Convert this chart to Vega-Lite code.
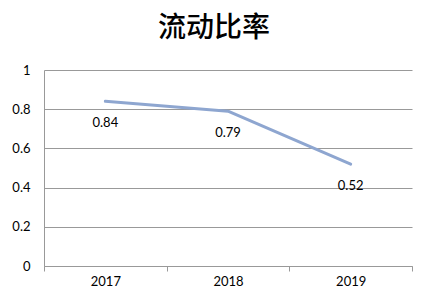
{
  "$schema": "https://vega.github.io/schema/vega-lite/v6.json",
  "width": 368,
  "height": 196,
  "autosize": {"type": "none"},
  "padding": {"left": 44, "top": 70, "right": 19, "bottom": 39},
  "background": "white",
  "title": {
    "text": "流动比率",
    "font": "Noto Sans CJK SC",
    "fontSize": 28,
    "fontWeight": 500,
    "color": "black",
    "anchor": "middle",
    "frame": "group",
    "dx": -14,
    "offset": 21
  },
  "data": {
    "values": [
      {"year": "2017", "ratio": 0.84},
      {"year": "2018", "ratio": 0.79},
      {"year": "2019", "ratio": 0.52}
    ]
  },
  "config": {
    "view": {"stroke": null},
    "font": "Lato"
  },
  "encoding": {
    "x": {
      "field": "year",
      "type": "ordinal",
      "scale": {"type": "band", "paddingInner": 0, "paddingOuter": 0},
      "axis": {
        "title": null,
        "labelAngle": 0,
        "labelFont": "Lato",
        "labelFontSize": 13,
        "labelColor": "black",
        "labelPadding": 4,
        "domainColor": "#999999",
        "domainWidth": 1,
        "tickColor": "#999999",
        "tickSize": 5,
        "tickBand": "extent",
        "grid": false
      }
    },
    "y": {
      "field": "ratio",
      "type": "quantitative",
      "scale": {"domain": [0, 1]},
      "axis": {
        "title": null,
        "values": [0, 0.2, 0.4, 0.6, 0.8, 1],
        "format": "~g",
        "labelFont": "Lato",
        "labelFontSize": 13,
        "labelColor": "black",
        "labelPadding": 14,
        "ticks": false,
        "domainColor": "#999999",
        "gridColor": "#999999",
        "gridWidth": 1
      }
    }
  },
  "layer": [
    {
      "mark": {"type": "line", "color": "#8EA6D0", "strokeWidth": 3, "strokeCap": "round", "strokeJoin": "round"}
    },
    {
      "mark": {"type": "text", "dy": 22, "fontSize": 13, "font": "Lato", "color": "black", "baseline": "middle"},
      "encoding": {"text": {"field": "ratio", "type": "quantitative", "format": ".2f"}}
    }
  ]
}
